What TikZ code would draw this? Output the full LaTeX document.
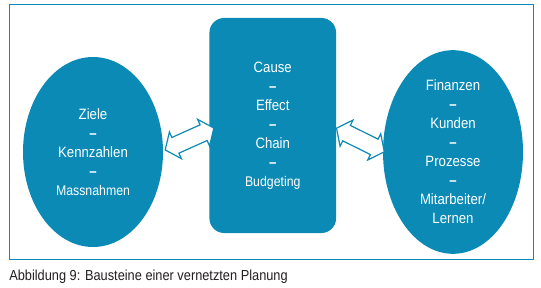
\documentclass[tikz,border=0pt]{standalone}
\usepackage{fontspec}
\setmainfont{Liberation Sans}[FakeStretch=0.88]
\definecolor{mBlue}{HTML}{0B8AB6}
\definecolor{mInk}{HTML}{231F20}
\usepackage{tikz}
\usetikzlibrary{positioning,shapes.geometric,shapes.arrows}

\begin{document}
\begin{tikzpicture}[x=0.75pt, y=-0.75pt,
  font=\fontsize{11.25}{14.25}\selectfont,
  blob/.style={ellipse, fill=mBlue, text=white, minimum width=105pt, minimum height=142.5pt, inner sep=0pt, align=center},
  block/.style={rectangle, fill=mBlue, text=white, rounded corners=11pt, minimum width=95pt, minimum height=161.25pt, inner sep=0pt, align=center},
  link/.style={double arrow, draw=mBlue, fill=white, line width=0.9pt, inner xsep=0pt, inner ysep=6pt, minimum height=40pt, double arrow head extend=4.5pt, double arrow tip angle=105}]
\useasboundingbox (0,0) rectangle (541,288);
% frame
\draw[mBlue, line width=0.75pt] (9.5,4.5) rectangle (533.5,259.5);
% blocks
\node[blob] (ziele) at (93,152) {Ziele\\\textbf{--}\\Kennzahlen\\\textbf{--}\\{\fontsize{10.5}{14.25}\selectfont Massnahmen}};
\node[block] (chain) at (272.75,125.5) {Cause\\\textbf{--}\\Effect\\\textbf{--}\\Chain\\\textbf{--}\\{\fontsize{10.5}{14.25}\selectfont Budgeting}};
\node[blob] (bsc) at (453,152) {Finanzen\\\textbf{--}\\Kunden\\\textbf{--}\\Prozesse\\\textbf{--}\\Mitarbeiter/\\Lernen};
% links
\node[link, rotate=24.2] (linkL) at (189.5,139) {};
\node[link, rotate=-26.3] (linkR) at (360.4,140) {};
% caption
\node[anchor=base west, inner sep=0pt, text=mInk, font=\fontsize{10.9}{12}\selectfont] (cap) at (9,280) {Abbildung 9: Bausteine einer vernetzten Planung};
\end{tikzpicture}
\end{document}
